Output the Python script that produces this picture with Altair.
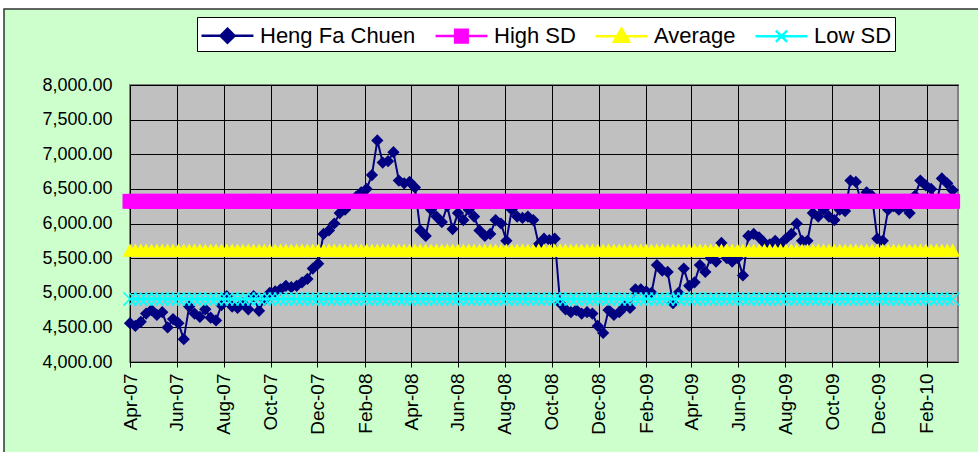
import altair as alt
import pandas as pd

# ---- data ----
series_names = ["Heng Fa Chuen", "High SD", "Average", "Low SD"]
series_colors = ["#000080", "#FF00FF", "#FFFF00", "#00FFFF"]

heng_fa_chuen = [
    4560, 4520, 4580, 4700, 4750, 4680, 4720, 4500, 4620, 4560,
    4330, 4800, 4700, 4650, 4760, 4640, 4600, 4820, 4950, 4800,
    4780, 4850, 4760, 4950, 4740, 4900, 5000, 5020, 5050, 5100,
    5080, 5100, 5150, 5200, 5350, 5420, 5850, 5900, 6000, 6150,
    6200, 6300, 6380, 6450, 6500, 6700, 7200, 6880, 6900, 7030,
    6620, 6580, 6600, 6520, 5900, 5820, 6200, 6100, 6020, 6250,
    5920, 6150, 6050, 6200, 6100, 5900, 5820, 5850, 6050, 6000,
    5750, 6200, 6100, 6080, 6100, 6050, 5700, 5780, 5760, 5780,
    4850, 4760, 4720, 4750, 4700, 4720, 4700, 4520, 4420, 4750,
    4680, 4720, 4800, 4780, 5050, 5050, 5020, 5000, 5400, 5320,
    5300, 4850, 5000, 5350, 5100, 5150, 5400, 5300, 5500, 5450,
    5720, 5500, 5450, 5500, 5250, 5820, 5850, 5800, 5720, 5700,
    5750, 5700, 5780, 5850, 6000, 5750, 5750, 6150, 6100, 6200,
    6100, 6050, 6200, 6180, 6620, 6600, 6300, 6450, 6400, 5780,
    5750, 6200, 6250, 6200, 6250, 6150, 6400, 6620, 6550, 6500,
    6300, 6650, 6580, 6480,
]
high_sd = 6320
average = 5615
low_sd = 4910

first_week = "2007-04-01"
domain_end = (2010, 3, 14)
tick_months = [
    (2007, 4), (2007, 6), (2007, 8), (2007, 10), (2007, 12),
    (2008, 2), (2008, 4), (2008, 6), (2008, 8), (2008, 10), (2008, 12),
    (2009, 2), (2009, 4), (2009, 6), (2009, 8), (2009, 10), (2009, 12),
    (2010, 2),
]
y_ticks = [4000, 4500, 5000, 5500, 6000, 6500, 7000, 7500, 8000]

# ---- table ----
n = len(heng_fa_chuen)
dates = pd.date_range(first_week, periods=n, freq="7D")
wide = pd.DataFrame({
    "date": dates,
    "Heng Fa Chuen": heng_fa_chuen,
    "High SD": [high_sd] * n,
    "Average": [average] * n,
    "Low SD": [low_sd] * n,
})
long = wide.melt("date", var_name="series", value_name="value")

FONT = "Liberation Sans"

x_enc = alt.X(
    "date:T",
    scale=alt.Scale(domain=[alt.DateTime(year=2007, month=4, date=1),
                            alt.DateTime(year=domain_end[0], month=domain_end[1], date=domain_end[2])]),
    axis=alt.Axis(
        values=[alt.DateTime(year=y, month=m, date=1) for y, m in tick_months],
        format="%b-%y", labelAngle=270, labelAlign="right", labelBaseline="middle",
        labelPadding=6, tickSize=5, tickColor="black", domain=False,
        grid=True, gridColor="black", gridWidth=1, gridOpacity=1,
        labelFont=FONT, labelFontSize=19, labelColor="black", title=None,
        labelOverlap=False,
    ),
)
y_enc = alt.Y(
    "value:Q",
    scale=alt.Scale(domain=[4000, 8000], nice=False, zero=False),
    axis=alt.Axis(
        values=y_ticks, format=",.2f", tickSize=0, labelPadding=18, domain=False,
        grid=True, gridColor="black", gridWidth=1, gridOpacity=1,
        labelFont=FONT, labelFontSize=18, labelColor="black", title=None,
    ),
)

base = alt.Chart(long)

def series_layers(name, color, shape, size, filled=True, stroke_w=2, point_sw=1):
    sub = base.transform_filter(alt.datum.series == name)
    line = sub.mark_line(color=color, strokeWidth=stroke_w, clip=False).encode(x=x_enc, y=y_enc)
    pts = sub.mark_point(color=color, shape=shape, size=size, filled=filled, opacity=1,
                         strokeWidth=point_sw, clip=False).encode(x=x_enc, y=y_enc)
    return [line, pts]

X_PATH = "M-1,-1L1,1M-1,1L1,-1"

# decorative outer frame (white margin strip + thin black border)
deco_df = pd.DataFrame({"k": [0]})
deco = alt.Chart(deco_df)
top_strip = deco.mark_rect(fill="white", clip=False).encode(
    x=alt.value(-130), x2=alt.value(860), y=alt.value(-85), y2=alt.value(-76))
left_strip = deco.mark_rect(fill="white", clip=False).encode(
    x=alt.value(-130), x2=alt.value(-126), y=alt.value(-85), y2=alt.value(380))
frame = deco.mark_rect(fill=None, stroke="#333333", strokeWidth=1.5, clip=False).encode(
    x=alt.value(-126), x2=alt.value(860), y=alt.value(-76), y2=alt.value(380))

layers = [top_strip, left_strip, frame]
layers += series_layers("Heng Fa Chuen", series_colors[0], "diamond", 150)
layers += series_layers("High SD", series_colors[1], "square", 225)
layers += series_layers("Average", series_colors[2], "triangle-up", 230)
layers += series_layers("Low SD", series_colors[3], X_PATH, 170, filled=False, point_sw=1.5)

# legend symbols: a line segment with the series marker in its middle
legend_paths = [
    "M-1,0H2.71M0.857,-0.5L1.357,0L0.857,0.5L0.357,0Z",
    "M-1,0H2.71M0.4,-0.45H1.3V0.45H0.4Z",
    "M-1,0H2.71M0.857,-0.55L1.4,0.4H0.314Z",
    "M-1,0H2.71M0.457,-0.4L1.257,0.4M0.457,0.4L1.257,-0.4",
]
legend_df = pd.DataFrame({"series": series_names})
leg = alt.Legend(
    title=None, orient="none", legendX=67, legendY=-68, direction="horizontal",
    columns=4, symbolSize=784, symbolStrokeWidth=2.5, symbolOpacity=1,
    labelFont=FONT, labelFontSize=22, labelColor="black", labelOffset=29,
    columnPadding=14, padding=3, strokeColor="black", fillColor="white",
    labelLimit=300,
)
legend_layer = alt.Chart(legend_df).mark_point(opacity=0, strokeWidth=2).encode(
    x=alt.value(0), y=alt.value(0),
    fill=alt.Fill("series:N", scale=alt.Scale(domain=series_names, range=series_colors), legend=leg, sort=series_names),
    stroke=alt.Stroke("series:N", scale=alt.Scale(domain=series_names, range=series_colors), legend=leg, sort=series_names),
    shape=alt.Shape("series:N", scale=alt.Scale(domain=series_names, range=legend_paths), legend=leg, sort=series_names),
)

chart = alt.layer(*layers, legend_layer).properties(
    width=828, height=277,
    autosize=alt.AutoSizeParams(type="none"),
    padding={"left": 130, "top": 85, "right": 20, "bottom": 90},
    background="#CCFFCC",
).configure_view(
    fill="#C0C0C0", stroke="#808080", strokeWidth=2,
)

chart.save("out.html", embed_options={"renderer": "svg", "actions": False})
